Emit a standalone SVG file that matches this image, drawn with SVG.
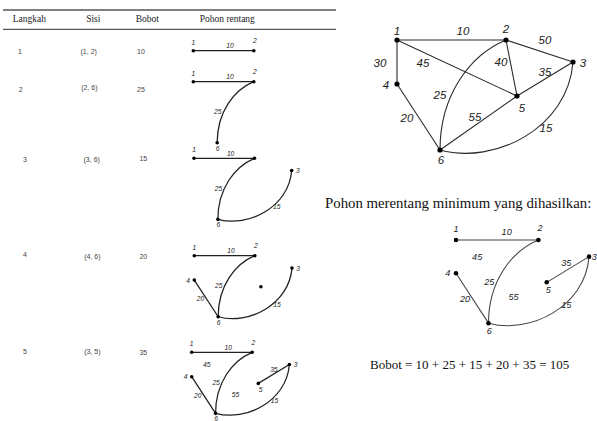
<svg xmlns="http://www.w3.org/2000/svg" xmlns:xlink="http://www.w3.org/1999/xlink" width="597" height="421" viewBox="0 0 597 421">
<style>
.bg{fill:#ffffff}
.rule{stroke:#555;stroke-width:1.3}
.hd{font-family:"Liberation Serif",serif;font-size:9.5px;fill:#222;text-anchor:middle}
.cell{font-family:"Liberation Sans",Arial,sans-serif;font-size:7px;fill:#444;text-anchor:middle}
.e{fill:none;stroke:#2a2a2a}
.lb{font-family:"Liberation Sans",Arial,sans-serif;font-style:italic;fill:#222;text-anchor:middle}
.dot{fill:#000}
.big{font-family:"Liberation Serif",serif;fill:#111}
.main .e{stroke-width:1.1}
.main .lb{font-size:11.5px}
.bt .e{stroke-width:1.4;stroke:#444}
.bt .lb{font-size:12px}
.st .e{stroke-width:2.3;stroke:#222}
.st .lb{font-size:12px}
</style>
<defs>
<path id="e12" d="M397,40 L506,40"/>
<path id="e14" d="M397,40 L397,84"/>
<path id="e46" d="M397,84 L440,150"/>
<path id="e15" d="M397,40 L517,96"/>
<path id="e25" d="M506,40 L517,96"/>
<path id="e23" d="M506,40 L573,62"/>
<path id="e35" d="M573,62 L517,96"/>
<path id="e56" d="M440,150 L517,96"/>
<path id="e26" d="M506,40 C470,55 440,95 440,150"/>
<path id="e36" d="M440,150 C495,165 568,128 573,62"/>
</defs>
<rect class="bg" x="0" y="0" width="597" height="421"/>

<!-- table -->
<g id="table">
<line class="rule" x1="3" y1="10" x2="336" y2="10"/>
<line class="rule" x1="3" y1="29.3" x2="336" y2="29.3"/>
<text class="hd" x="29.3" y="22.3">Langkah</text>
<text class="hd" x="93.3" y="22.3">Sisi</text>
<text class="hd" x="147.3" y="22.3">Bobot</text>
<text class="hd" x="227.3" y="22.3">Pohon rentang</text>
<text class="cell" x="20" y="54.2">1</text>
<text class="cell" x="88.7" y="54.2">(1, 2)</text>
<text class="cell" x="141" y="54.2">10</text>
<text class="cell" x="20.7" y="91.8">2</text>
<text class="cell" x="89.3" y="89.8">(2, 6)</text>
<text class="cell" x="141" y="91.8">25</text>
<text class="cell" x="25" y="161.5">3</text>
<text class="cell" x="91.7" y="161.5">(3, 6)</text>
<text class="cell" x="143.3" y="160.5">15</text>
<text class="cell" x="25" y="256.8">4</text>
<text class="cell" x="92.3" y="258.5">(4, 6)</text>
<text class="cell" x="143.3" y="258.5">20</text>
<text class="cell" x="25" y="354.2">5</text>
<text class="cell" x="92.3" y="353.5">(3, 5)</text>
<text class="cell" x="143.3" y="354.5">35</text>
</g>

<!-- step 1 tree -->
<g id="step1" class="st" transform="translate(193.3,50.7) scale(0.555) translate(-397,-40)">
<g id="s1-edges"><use href="#e12" class="e"/><text class="lb" x="463" y="35">10</text></g>
<g id="s1-n1"><circle class="dot" cx="397" cy="40" r="3.2"/><text class="lb" x="397" y="29">1</text></g>
<g id="s1-n2"><circle class="dot" cx="506" cy="40" r="3.2"/><text class="lb" x="508" y="27">2</text></g>
</g>

<!-- step 2 tree -->
<g id="step2" class="st" transform="translate(193.3,81.7) scale(0.555) translate(-397,-40)">
<g id="s2-edges"><use href="#e12" class="e"/><use href="#e26" class="e"/>
<text class="lb" x="463" y="35">10</text><text class="lb" x="441" y="99">25</text></g>
<g id="s2-n1"><circle class="dot" cx="397" cy="40" r="3.2"/><text class="lb" x="397" y="29">1</text></g>
<g id="s2-n2"><circle class="dot" cx="506" cy="40" r="3.2"/><text class="lb" x="508" y="27">2</text></g>
<g id="s2-n6"><circle class="dot" cx="440" cy="150" r="3.2"/><text class="lb" x="441" y="164">6</text></g>
</g>

<!-- step 3 tree -->
<g id="step3" class="st" transform="translate(194,158.3) scale(0.555) translate(-397,-40)">
<g id="s3-edges"><use href="#e12" class="e"/><use href="#e26" class="e"/><use href="#e36" class="e"/>
<text class="lb" x="463" y="35">10</text><text class="lb" x="441" y="99">25</text><text class="lb" x="546" y="132">15</text></g>
<g id="s3-n1"><circle class="dot" cx="397" cy="40" r="3.2"/><text class="lb" x="397" y="29">1</text></g>
<g id="s3-n2"><circle class="dot" cx="506" cy="40" r="3.2"/></g>
<g id="s3-n3"><circle class="dot" cx="573" cy="62" r="3.2"/><text class="lb" x="584" y="67">3</text></g>
<g id="s3-n6"><circle class="dot" cx="440" cy="150" r="3.2"/><text class="lb" x="441" y="164">6</text></g>
</g>

<!-- step 4 tree -->
<g id="step4" class="st" transform="translate(194.3,255.7) scale(0.555) translate(-397,-40)">
<g id="s4-edges"><use href="#e12" class="e"/><use href="#e26" class="e"/><use href="#e36" class="e"/><use href="#e46" class="e"/>
<text class="lb" x="463" y="35">10</text><text class="lb" x="441" y="99">25</text><text class="lb" x="546" y="132">15</text><text class="lb" x="408" y="122">20</text></g>
<g id="s4-n1"><circle class="dot" cx="397" cy="40" r="3.2"/><text class="lb" x="397" y="29">1</text></g>
<g id="s4-n2"><circle class="dot" cx="506" cy="40" r="3.2"/><text class="lb" x="508" y="27">2</text></g>
<g id="s4-n3"><circle class="dot" cx="573" cy="62" r="3.2"/><text class="lb" x="584" y="67">3</text></g>
<g id="s4-n4"><circle class="dot" cx="397" cy="84" r="3.2"/><text class="lb" x="386" y="89">4</text></g>
<g id="s4-n5"><circle class="dot" cx="517" cy="96" r="3.2"/></g>
<g id="s4-n6"><circle class="dot" cx="440" cy="150" r="3.2"/><text class="lb" x="441" y="164">6</text></g>
</g>

<!-- step 5 tree -->
<g id="step5" class="st" transform="translate(191.7,352.3) scale(0.555) translate(-397,-40)">
<g id="s5-edges"><use href="#e12" class="e"/><use href="#e26" class="e"/><use href="#e36" class="e"/><use href="#e46" class="e"/><use href="#e35" class="e"/>
<text class="lb" x="463" y="35">10</text><text class="lb" x="424" y="67">45</text><text class="lb" x="441" y="99">25</text><text class="lb" x="476" y="121">55</text><text class="lb" x="546" y="132">15</text><text class="lb" x="408" y="122">20</text><text class="lb" x="545" y="76">35</text></g>
<g id="s5-n1"><circle class="dot" cx="397" cy="40" r="3.2"/><text class="lb" x="397" y="29">1</text></g>
<g id="s5-n2"><circle class="dot" cx="506" cy="40" r="3.2"/><text class="lb" x="508" y="27">2</text></g>
<g id="s5-n3"><circle class="dot" cx="573" cy="62" r="3.2"/><text class="lb" x="584" y="67">3</text></g>
<g id="s5-n4"><circle class="dot" cx="397" cy="84" r="3.2"/><text class="lb" x="386" y="89">4</text></g>
<g id="s5-n5"><circle class="dot" cx="517" cy="96" r="3.2"/><text class="lb" x="521" y="112">5</text></g>
<g id="s5-n6"><circle class="dot" cx="440" cy="150" r="3.2"/><text class="lb" x="441" y="164">6</text></g>
</g>

<!-- main graph -->
<g id="graph" class="main">
<g id="connectors">
<use href="#e12" class="e"/><use href="#e14" class="e"/><use href="#e46" class="e"/><use href="#e15" class="e"/><use href="#e25" class="e"/><use href="#e23" class="e"/><use href="#e35" class="e"/><use href="#e56" class="e"/><use href="#e26" class="e"/><use href="#e36" class="e"/>
<text class="lb" x="463" y="34.8">10</text>
<text class="lb" x="545" y="44.1">50</text>
<text class="lb" x="380" y="67.1">30</text>
<text class="lb" x="423" y="67.1">45</text>
<text class="lb" x="501" y="66.1">40</text>
<text class="lb" x="545" y="76.1">35</text>
<text class="lb" x="440" y="99.1">25</text>
<text class="lb" x="407" y="122.1">20</text>
<text class="lb" x="475" y="121.1">55</text>
<text class="lb" x="546" y="132.1">15</text>
</g>
<g id="n1"><circle class="dot" cx="397" cy="40" r="2.6"/><text class="lb" x="397" y="34.8">1</text></g>
<g id="n2"><circle class="dot" cx="506" cy="40" r="2.6"/><text class="lb" x="506" y="32.6">2</text></g>
<g id="n3"><circle class="dot" cx="573" cy="62" r="2.6"/><text class="lb" x="583" y="67.1">3</text></g>
<g id="n4"><circle class="dot" cx="397" cy="84" r="2.6"/><text class="lb" x="386" y="89.1">4</text></g>
<g id="n5"><circle class="dot" cx="517" cy="96" r="2.6"/><text class="lb" x="522" y="112.1">5</text></g>
<g id="n6"><circle class="dot" cx="440" cy="150" r="2.6"/><text class="lb" x="441" y="164.1">6</text></g>
</g>

<text class="big" x="325" y="207.5" font-size="14.8">Pohon merentang minimum yang dihasilkan:</text>

<!-- resulting tree -->
<g id="result" class="bt" transform="translate(456,240) scale(0.756) translate(-397,-40)">
<g id="r-edges"><use href="#e12" class="e"/><use href="#e26" class="e"/><use href="#e36" class="e"/><use href="#e46" class="e"/><use href="#e35" class="e"/>
<text class="lb" x="464" y="33">10</text><text class="lb" x="425" y="67">45</text><text class="lb" x="441" y="99">25</text><text class="lb" x="473" y="119">55</text><text class="lb" x="543" y="130">15</text><text class="lb" x="409" y="122">20</text><text class="lb" x="543" y="75">35</text></g>
<g id="r-n1"><circle class="dot" cx="397" cy="40" r="3"/><text class="lb" x="397" y="30">1</text></g>
<g id="r-n2"><circle class="dot" cx="506" cy="40" r="3"/><text class="lb" x="508" y="28">2</text></g>
<g id="r-n3"><circle class="dot" cx="573" cy="62" r="3"/><text class="lb" x="580" y="67" font-size="11px">3</text></g>
<g id="r-n4"><circle class="dot" cx="397" cy="84" r="3"/><text class="lb" x="386" y="88">4</text></g>
<g id="r-n5"><circle class="dot" cx="517" cy="96" r="3"/><text class="lb" x="519" y="110">5</text></g>
<g id="r-n6"><circle class="dot" cx="440" cy="150" r="3"/><text class="lb" x="441" y="165">6</text></g>
</g>

<text class="big" x="370" y="368.5" font-size="13">Bobot = 10 + 25 + 15 + 20 + 35 = 105</text>
</svg>
